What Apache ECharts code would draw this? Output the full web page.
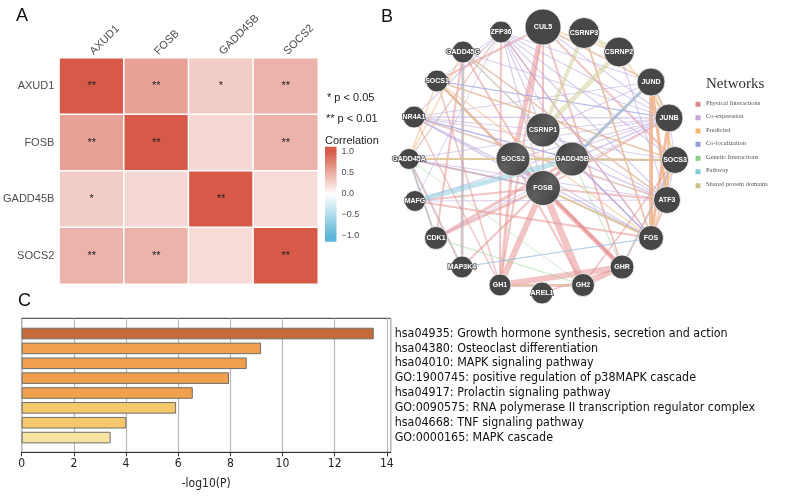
<!DOCTYPE html>
<html><head><meta charset="utf-8">
<script src="https://cdn.jsdelivr.net/npm/echarts@6/dist/echarts.min.js"></script>
<style>html,body{margin:0;padding:0;background:#fff}#c{width:800px;height:497px}</style>
</head><body><div id="c"></div>
<script>
// ---------- Panel A data ----------
const heatGenes = ['AXUD1', 'FOSB', 'GADD45B', 'SOCS2'];
const corrRows = [
  [1.00, 0.57, 0.31, 0.46],
  [0.57, 1.00, 0.24, 0.46],
  [0.31, 0.24, 1.00, 0.22],
  [0.46, 0.46, 0.22, 1.00]
];
const sigRows = [
  ['**', '**', '*', '**'],
  ['**', '**', '', '**'],
  ['*', '', '**', ''],
  ['**', '**', '', '**']
];

// ---------- Panel B data ----------
const netGenes = ['CUL5','CSRNP3','CSRNP2','JUND','JUNB','SOCS3','ATF3','FOS','GHR','GH2','AREL1','GH1','MAP3K4','CDK1','MAFG','GADD45A','NR4A1','SOCS1','GADD45G','ZFP36','CSRNP1','SOCS2','GADD45B','FOSB'];
const netX = [1, 42, 77, 109, 127, 133, 125, 109, 80, 41, 0, -42, -80, -106, -127, -133, -128, -105, -79, -41, 1, -29, 30, 1];
const netY = [133, 127, 108, 78, 42, 0, -40, -78, -107, -125, -133, -125, -107, -78, -41, 1, 43, 79, 108, 128, 30, 1, 1, -28];
const netScore = [36, 31, 30, 28, 28, 27, 27, 25, 24, 23, 22, 22, 22, 23, 21, 21, 22, 22, 22, 22, 34, 34, 34, 35];
const queryGenes = ['CSRNP1', 'SOCS2', 'GADD45B', 'FOSB'];
const netTypes = ['Physical Interactions', 'Co-expression', 'Predicted', 'Co-localization', 'Genetic Interactions', 'Pathway', 'Shared protein domains'];
// [source, target, type index, weight]
const netEdges = [
  ['FOSB','GH1',0,6],['FOSB','GH2',0,7],['FOSB','GHR',0,3],['SOCS2','GH1',0,3],['SOCS2','GHR',0,5],
  ['SOCS2','GH2',0,2],['GH1','GHR',0,6],['GH2','GHR',0,5],['GH1','GH2',0,3],['CUL5','SOCS2',0,5],
  ['CUL5','FOSB',0,2],['CUL5','SOCS3',0,2],['CUL5','SOCS1',0,2],['CUL5','GH1',0,2],['JUND','FOS',0,4],
  ['JUND','ATF3',0,3],['JUNB','FOS',0,3],['JUNB','ATF3',0,2],['FOS','ATF3',0,2],['JUND','JUNB',0,2],
  ['FOSB','JUND',0,3],['FOSB','JUNB',0,2],['FOSB','ATF3',0,2],['GADD45B','MAP3K4',0,2],['GADD45A','MAP3K4',0,2],
  ['GADD45G','MAP3K4',0,3],['GADD45A','CDK1',0,2],['GADD45G','CDK1',0,2],['GADD45B','CDK1',0,3],['SOCS1','GHR',0,2],
  ['SOCS3','GHR',0,2],['ZFP36','GH1',0,2],['SOCS2','SOCS3',0,2],['SOCS2','SOCS1',0,2],['FOSB','MAFG',0,2],
  ['FOSB','CDK1',0,3],['CUL5','GHR',0,2],['AREL1','GHR',0,1.5],['SOCS1','GH1',0,1.5],['SOCS3','GH2',0,1.5],
  ['NR4A1','GH1',0,1.5],['GADD45A','FOSB',0,2],['ZFP36','FOS',0,1.5],['MAFG','FOS',0,2],['GADD45G','FOSB',0,2],
  ['ZFP36','JUNB',1,1.2],['ZFP36','JUND',1,1.2],['ZFP36','FOS',1,1.2],['ZFP36','ATF3',1,1.2],['ZFP36','SOCS3',1,1.2],
  ['ZFP36','NR4A1',1,1.2],['ZFP36','GADD45B',1,1.2],['ZFP36','FOSB',1,1.2],['ZFP36','CSRNP1',1,1.2],['ZFP36','GADD45A',1,1.2],
  ['NR4A1','JUNB',1,1.5],['NR4A1','FOS',1,1.5],['NR4A1','ATF3',1,1.5],['NR4A1','FOSB',1,1.5],['NR4A1','GADD45B',1,1.5],
  ['NR4A1','SOCS3',1,1.2],['NR4A1','JUND',1,1.2],['NR4A1','CSRNP1',1,1.2],['GADD45A','SOCS3',1,1.2],['GADD45A','ATF3',1,1.2],
  ['GADD45A','JUNB',1,1.2],['GADD45G','JUNB',1,1.2],['GADD45G','FOS',1,1.2],['GADD45G','ATF3',1,1.2],['SOCS1','SOCS3',1,1.2],
  ['SOCS1','JUNB',1,1.2],['FOSB','FOS',1,1.5],['GADD45B','JUNB',1,1.5],['GADD45B','FOS',1,1.5],['GADD45B','ATF3',1,1.5],
  ['GADD45B','JUND',1,1.5],['GADD45B','SOCS3',1,1.5],['CSRNP1','FOS',1,1.2],['CSRNP1','JUNB',1,1.2],['CSRNP1','ATF3',1,1.2],
  ['CSRNP1','JUND',1,1.2],['MAFG','ATF3',1,1.2],['MAFG','JUNB',1,1.2],['CUL5','JUND',1,1.2],['CUL5','JUNB',1,1.2],
  ['CSRNP3','FOS',1,1.2],['CSRNP2','ATF3',1,1.2],['SOCS3','ATF3',1,1.2],['JUNB','SOCS3',1,1.2],['SOCS2','JUNB',1,1.2],
  ['SOCS2','FOS',1,1.2],['CDK1','JUNB',1,1],['MAP3K4','FOS',1,1],['ZFP36','SOCS1',1,1],['ZFP36','MAFG',1,1],
  ['JUND','FOS',2,3],['JUNB','FOS',2,2],['SOCS3','FOS',2,2],['ATF3','JUND',2,3],['JUNB','ATF3',2,2],
  ['SOCS3','JUND',2,2],['SOCS1','SOCS3',2,1.5],['GADD45A','GADD45B',2,2],['GADD45A','SOCS2',2,1.5],['CUL5','JUND',2,1.5],
  ['SOCS1','GADD45A',2,1.5],['GADD45G','GADD45A',2,1.5],['SOCS2','SOCS3',2,2],['CSRNP3','FOS',2,2],['FOSB','FOS',2,2],
  ['SOCS1','FOS',2,1.5],['GADD45G','ATF3',2,1.5],['ZFP36','GADD45A',2,1],['SOCS1','SOCS2',2,1.5],['CSRNP2','JUNB',2,1.5],
  ['NR4A1','ATF3',2,1],['CUL5','CSRNP2',2,1.5],
  ['NR4A1','GADD45B',3,1],['GADD45A','FOSB',3,1],['SOCS1','JUNB',3,1],
  ['GADD45B','GHR',4,1],['CDK1','GH2',4,1],['GADD45A','GH2',4,0.8],
  ['MAFG','GADD45B',5,5],['JUND','GADD45B',5,3],['MAP3K4','GADD45G',5,1.5],['CDK1','GADD45A',5,1.5],['MAP3K4','GADD45A',5,1],
  ['FOS','MAP3K4',5,1],['GHR','SOCS3',5,1],
  ['CSRNP3','CSRNP2',6,4],['CSRNP3','CSRNP1',6,4],['CSRNP2','CSRNP1',6,5],['GADD45A','GADD45B',6,1.5],['GADD45G','GADD45B',6,1.5],
  ['SOCS1','SOCS2',6,1.5],['SOCS3','SOCS2',6,1.5],['JUNB','JUND',6,1.5],['FOS','FOSB',6,1.5],['GH1','GH2',6,1.5]
];

// ---------- Panel C data ----------
const enrichTerms = [
  'hsa04935: Growth hormone synthesis, secretion and action',
  'hsa04380: Osteoclast differentiation',
  'hsa04010: MAPK signaling pathway',
  'GO:1900745: positive regulation of p38MAPK cascade',
  'hsa04917: Prolactin signaling pathway',
  'GO:0090575: RNA polymerase II transcription regulator complex',
  'hsa04668: TNF signaling pathway',
  'GO:0000165: MAPK cascade'
];
const enrichLogP = [13.5, 9.18, 8.63, 7.95, 6.56, 5.92, 4.01, 3.41];

// ---------- styles ----------
const barColors = ['#C8693A', '#F0A04D', '#F0A04D', '#F0A04D', '#F0A04D', '#F5C96B', '#F5C96B', '#F9E3A0'];
const edgeColors = ['#E79494', '#BBA6DE', '#F2BA78', '#95A4E0', '#8CD08C', '#8ECDE0', '#D2D29A'];
const legendSwatch = ['#E08A8A', '#C4A6D8', '#F2B66C', '#8E9ED6', '#84CF84', '#82CBD8', '#CCC48C'];
const corrLow = '#5CB5D6', corrHigh = '#D65A47';
const sans = '"Liberation Sans", Arial, sans-serif';
const serif = '"Liberation Serif", "DejaVu Serif", serif';
const mpl = '"DejaVu Sans Condensed", "DejaVu Sans", sans-serif';

function hatchCanvas() {
  const c = document.createElement('canvas');
  c.width = 5; c.height = 5;
  const g = c.getContext('2d');
  g.fillStyle = '#484848'; g.fillRect(0, 0, 5, 5);
  g.strokeStyle = 'rgba(255,255,255,0.14)'; g.lineWidth = 1;
  g.beginPath();
  g.moveTo(0, 5); g.lineTo(5, 0);
  g.moveTo(-1, 1); g.lineTo(1, -1);
  g.moveTo(4, 6); g.lineTo(6, 4);
  g.stroke();
  return c;
}
const hatch = hatchCanvas();

const heatData = [];
corrRows.forEach((row, i) => row.forEach((v, j) => heatData.push([j, i, v])));

const nodes = netGenes.map((g, i) => ({
  name: g,
  value: [netX[i], netY[i]],
  symbolSize: netScore[i],
  itemStyle: queryGenes.includes(g) ? { color: { image: hatch, repeat: 'repeat' } } : {}
}));
const links = netEdges.map(e => ({
  source: e[0], target: e[1],
  lineStyle: { color: edgeColors[e[2]], width: e[3], opacity: 0.55 }
}));

const graphic = [
  { type: 'text', left: 16, top: 7, style: { text: 'A', font: '18px ' + sans, fill: '#111' } },
  { type: 'text', left: 381, top: 8, style: { text: 'B', font: '18px ' + sans, fill: '#111' } },
  { type: 'text', left: 18, top: 292, style: { text: 'C', font: '18px ' + sans, fill: '#111' } },
  { type: 'text', left: 327, top: 92, style: { text: '* p < 0.05', font: '11px ' + sans, fill: '#222' } },
  { type: 'text', left: 326, top: 113, style: { text: '** p < 0.01', font: '11px ' + sans, fill: '#222' } },
  { type: 'text', left: 325, top: 135, style: { text: 'Correlation', font: '11px ' + sans, fill: '#222' } },
  { type: 'rect', shape: { x: 325, y: 146.7, width: 11.5, height: 95 }, z: -1,
    style: { fill: new echarts.graphic.LinearGradient(0, 0, 0, 1, [
      { offset: 0, color: corrHigh }, { offset: 0.053, color: corrHigh },
      { offset: 0.5, color: '#ffffff' },
      { offset: 0.947, color: corrLow }, { offset: 1, color: corrLow }]) } },
  { type: 'text', left: 706, top: 77, style: { text: 'Networks', font: '15px ' + serif, fill: '#333' } }
];
const legendY = [104.3, 117.7, 131, 144.3, 158.3, 171.7, 185.7];
netTypes.forEach((t, i) => {
  graphic.push({ type: 'rect', shape: { x: 695.5, y: legendY[i] - 2.5, width: 5, height: 5 }, style: { fill: legendSwatch[i] } });
  graphic.push({ type: 'text', left: 706, top: legendY[i] - 4.5, style: { text: t, font: '6.5px ' + serif, fill: '#555' } });
});

const option = {
  animation: false,
  backgroundColor: '#fff',
  graphic: graphic,
  visualMap: { type: 'continuous', show: false, min: -1, max: 1, dimension: 2, seriesIndex: 0,
    inRange: { color: [corrLow, '#ffffff', corrHigh] } },
  grid: [
    { left: 58, top: 58, width: 260, height: 226 },
    { left: 325, top: 151.7, width: 11.5, height: 84 },
    { left: 402, top: 20, width: 280, height: 280 },
    { left: 21.7, top: 318.3, width: 369, height: 134, show: true, borderColor: '#333', borderWidth: 1 },
    { left: 21.7, top: 326.1, width: 369, height: 118.9 }
  ],
  xAxis: [
    { gridIndex: 0, type: 'category', position: 'top', data: heatGenes,
      axisLine: { show: false }, axisTick: { show: false },
      axisLabel: { rotate: -45, margin: 5, color: '#4d4d4d', fontSize: 11, fontFamily: sans } },
    { gridIndex: 1, type: 'value', show: false },
    { gridIndex: 2, type: 'value', show: false, min: -140, max: 140 },
    { gridIndex: 3, type: 'value', min: 0, max: 14.15, interval: 2,
      splitLine: { show: true, lineStyle: { color: '#b8b8b8', width: 1.2 } },
      axisLine: { show: true, lineStyle: { color: '#333' } },
      axisTick: { show: true, length: 4, lineStyle: { color: '#333' } },
      axisLabel: { color: '#222', fontSize: 12, fontFamily: mpl, margin: 6, showMaxLabel: false },
      name: '-log10(P)', nameLocation: 'middle', nameGap: 26,
      nameTextStyle: { color: '#222', fontSize: 12, fontFamily: mpl } },
    { gridIndex: 4, type: 'value', min: 0, max: 14.15, show: false }
  ],
  yAxis: [
    { gridIndex: 0, type: 'category', inverse: true, data: heatGenes,
      axisLine: { show: false }, axisTick: { show: false },
      axisLabel: { margin: 5, color: '#4d4d4d', fontSize: 11, fontFamily: sans } },
    { gridIndex: 1, type: 'value', min: -1, max: 1, interval: 0.5, position: 'right',
      axisLine: { show: false }, splitLine: { show: false },
      axisTick: { show: true, inside: true, length: 2.5, lineStyle: { color: '#fff' } },
      axisLabel: { margin: 5, color: '#4d4d4d', fontSize: 9, fontFamily: sans,
        formatter: v => (v < 0 ? '\u2212' : '') + Math.abs(v).toFixed(1) } },
    { gridIndex: 2, type: 'value', show: false, min: -140, max: 140 },
    { gridIndex: 3, type: 'value', show: false, min: 0, max: 1 },
    { gridIndex: 4, type: 'category', inverse: true, data: enrichTerms, position: 'right',
      axisLine: { show: false }, axisTick: { show: false }, splitLine: { show: false },
      axisLabel: { interval: 0, margin: 4, align: 'left', color: '#111', fontSize: 12.4, fontFamily: mpl } }
  ],
  series: [
    { type: 'heatmap', xAxisIndex: 0, yAxisIndex: 0, data: heatData,
      itemStyle: { borderColor: '#fff', borderWidth: 1.5 },
      label: { show: true, color: '#222', fontSize: 11, fontFamily: sans,
        formatter: p => sigRows[p.data[1]][p.data[0]] },
      emphasis: { disabled: true } },
    { type: 'graph', coordinateSystem: 'cartesian2d', xAxisIndex: 2, yAxisIndex: 2,
      data: nodes, links: links, symbol: 'circle',
      itemStyle: { color: '#474747', borderColor: '#ffffff', borderWidth: 0.8 },
      label: { show: true, position: 'inside', color: '#fff', fontSize: 7, fontWeight: 'bold', fontFamily: sans,
        textBorderColor: '#4a4a4a', textBorderWidth: 1.5 },
      lineStyle: { curveness: 0 },
      emphasis: { disabled: true } },
    { type: 'bar', xAxisIndex: 4, yAxisIndex: 4, data: enrichLogP.map((v, i) => ({ value: v, itemStyle: { color: barColors[i] } })),
      barWidth: 11.6, itemStyle: { borderColor: '#6e6e6e', borderWidth: 1 } }
  ]
};
const chart = echarts.init(document.getElementById('c'), null, { renderer: 'canvas' });
chart.setOption(option);
</script></body></html>
